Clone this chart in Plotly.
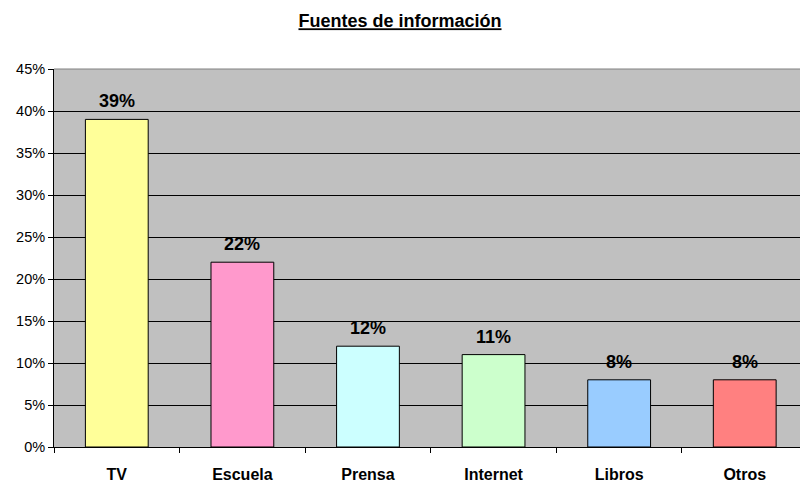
import plotly.graph_objects as go

categories = ["TV", "Escuela", "Prensa", "Internet", "Libros", "Otros"]
values = [39, 22, 12, 11, 8, 8]
colors = ["#FFFF99", "#FF99CC", "#CCFFFF", "#CCFFCC", "#99CCFF", "#FF8080"]
y_ticks = list(range(0, 50, 5))
title_text = "Fuentes de información"

FONT = "Liberation Sans, Arial, sans-serif"

fig = go.Figure()
fig.add_trace(go.Bar(
    x=categories, y=values,
    marker=dict(color=colors, line=dict(color="#000000", width=1)),
    hoverinfo="skip",
))

for c, v in zip(categories, values):
    fig.add_annotation(
        x=c, y=v, text=f"<b>{v}%</b>", showarrow=False,
        yanchor="bottom", yshift=6,
        font=dict(family=FONT, size=18, color="#000000"),
    )

# plot-area border (top, gray)
fig.add_shape(type="line", xref="paper", yref="paper", x0=0, x1=1.05, y0=1, y1=1,
              line=dict(color="#808080", width=1), layer="above")

fig.update_layout(
    width=800, height=482,
    margin=dict(l=54, r=0, t=69, b=35),
    paper_bgcolor="#FFFFFF",
    plot_bgcolor="#C0C0C0",
    bargap=0.5,
    showlegend=False,
    title=dict(text=f"<b><u>{title_text}</u></b>", x=0.5, xanchor="center",
               y=1 - 21 / 482, yanchor="middle", yref="container",
               font=dict(family=FONT, size=18, color="#000000")),
    xaxis=dict(
        type="category", range=[-0.5, 5.44],
        showgrid=False, showline=True, linecolor="#000000", linewidth=1,
        ticks="outside", tickson="boundaries", ticklen=5, tickcolor="#000000",
        tickfont=dict(family=FONT, size=16, color="#000000"),
        tickprefix="<b>", ticksuffix="</b>",
        ticklabelstandoff=13,
        fixedrange=True,
    ),
    yaxis=dict(
        range=[0, 45], tickvals=y_ticks, ticktext=[f"{t}%" for t in y_ticks],
        showgrid=True, gridcolor="#000000", gridwidth=1,
        showline=True, linecolor="#000000", linewidth=1,
        ticks="outside", ticklen=5, tickcolor="#000000",
        tickfont=dict(family=FONT, size=14.5, color="#000000"),
        zeroline=False, fixedrange=True,
    ),
)

fig.write_html(
    "out.html",
    config={"displayModeBar": False},
    post_script="document.body.style.margin='0';document.body.style.padding='0';document.body.style.overflow='hidden';",
)
